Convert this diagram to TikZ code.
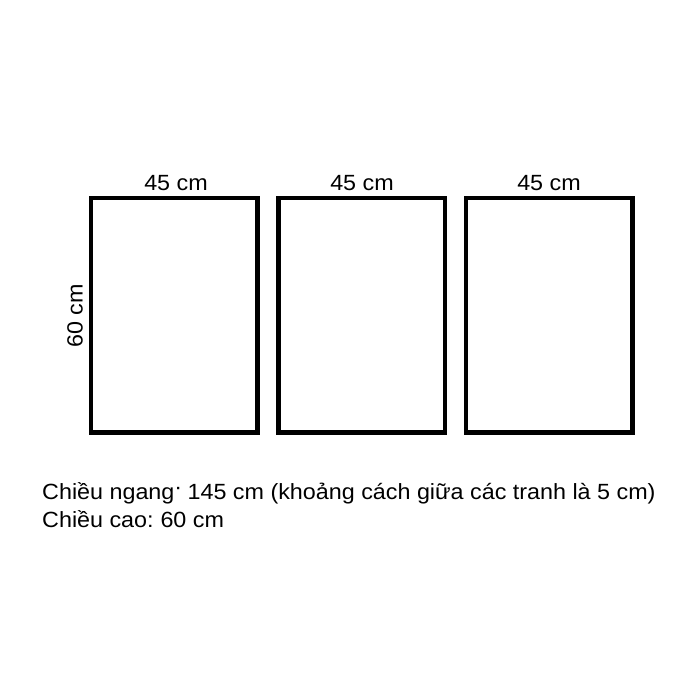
\documentclass[tikz,border=0pt]{standalone}
\usepackage{fontspec}
\setmainfont[FakeStretch=1.06]{Liberation Sans}
\begin{document}
\begin{tikzpicture}[x=1pt,y=-1pt,
  panel/.style={draw=black,line width=4.5pt},
  lbl/.style={font=\fontsize{22}{26}\selectfont,inner sep=0pt,anchor=base},
  note/.style={font=\fontsize{22}{26}\selectfont,inner sep=0pt,anchor=base west}]
\useasboundingbox[fill=white] (0,0) rectangle (700,700);
\draw[panel] (91,198) rectangle (257.5,432.7);
\draw[panel] (278.5,198) rectangle (445,432.7);
\draw[panel] (466,198) rectangle (632.5,432.7);
\node[lbl] (w1) at (176,191) {45 cm};
\node[lbl] (w2) at (362,191) {45 cm};
\node[lbl] (w3) at (549,191) {45 cm};
\node[lbl,rotate=90] (h1) at (82.5,316) {60 cm};
\node[note] (t1) at (42,499) {Chiều ngang\raisebox{0.22em}{·}\hspace{-0.05em} 145 cm (khoảng cách giữa các tranh là 5 cm)};
\node[note] (t2) at (42,527.5) {Chiều cao:\hspace{-0.08em} 60 cm};
\end{tikzpicture}
\end{document}
